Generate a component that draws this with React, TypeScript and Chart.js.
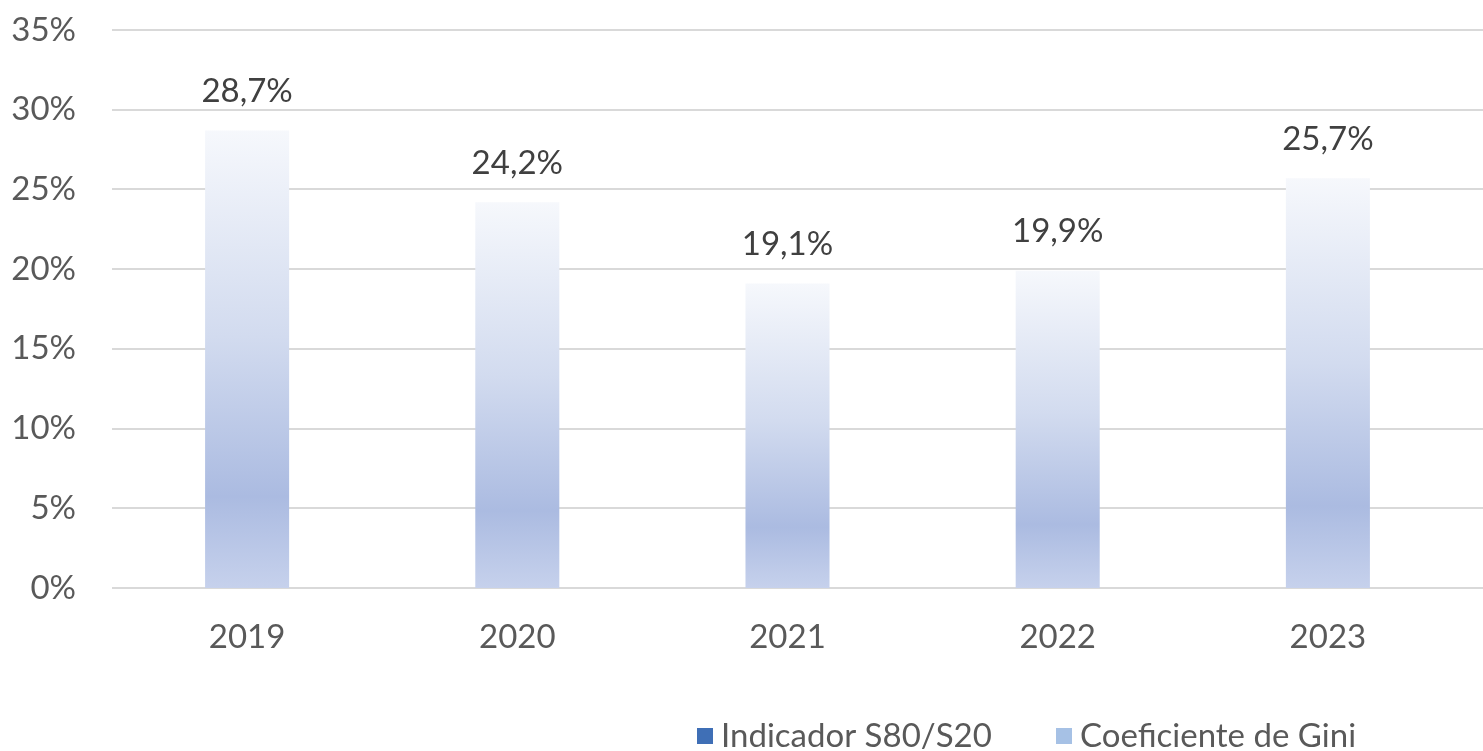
import React, { useEffect, useRef } from "react";
import { Chart, registerables } from "chart.js";

Chart.register(...registerables);

const categories = ["2019", "2020", "2021", "2022", "2023"];
const giniValues = [28.7, 24.2, 19.1, 19.9, 25.7];
const s80s20Values: (number | null)[] = [null, null, null, null, null];
const yTicks = [0, 5, 10, 15, 20, 25, 30, 35];
const seriesLabels = ["Indicador S80/S20", "Coeficiente de Gini"];
const legendColors = ["#3f6fb6", "#a6c1e5"];

const FONT = "Lato, 'Open Sans', sans-serif";
const FS = 33;
const fmt = (v: number) => v.toFixed(1).replace(".", ",") + "%";

const gridPlugin = {
  id: "fullGrid",
  beforeDatasetsDraw(chart: any) {
    const { ctx, chartArea, scales } = chart;
    ctx.save();
    ctx.strokeStyle = "#d9d9d9";
    ctx.lineWidth = 2;
    yTicks.forEach((t) => {
      const y = Math.round(scales.y.getPixelForValue(t));
      ctx.beginPath();
      ctx.moveTo(chartArea.left, y);
      ctx.lineTo(chart.width, y);
      ctx.stroke();
    });
    ctx.restore();
  },
};

const labelPlugin = {
  id: "barLabels",
  afterDatasetsDraw(chart: any) {
    const { ctx } = chart;
    const meta = chart.getDatasetMeta(1);
    ctx.save();
    ctx.font = `${FS}px ${FONT}`;
    ctx.fillStyle = "#404040";
    ctx.textAlign = "center";
    ctx.textBaseline = "middle";
    meta.data.forEach((bar: any, i: number) => {
      const v = giniValues[i];
      ctx.fillText(fmt(v), bar.x, bar.y - 39);
    });
    ctx.restore();
  },
};

const legendPlugin = {
  id: "customLegend",
  afterDraw(chart: any) {
    const { ctx } = chart;
    ctx.save();
    ctx.font = `${FS}px ${FONT}`;
    ctx.textBaseline = "middle";
    ctx.textAlign = "left";
    const y = 736;
    const starts = [697, 1056];
    seriesLabels.forEach((lab, i) => {
      const x = starts[i];
      ctx.fillStyle = legendColors[i];
      ctx.fillRect(x, y - 8, 16, 16);
      ctx.fillStyle = "#595959";
      ctx.fillText(lab, x + 24, y);
    });
    ctx.restore();
  },
};

export default function App() {
  const ref = useRef<HTMLCanvasElement>(null);
  useEffect(() => {
    document.body.style.margin = "0";
    const canvas = ref.current!;
    const chart = new Chart(canvas, {
      type: "bar",
      data: {
        labels: categories,
        datasets: [
          {
            label: seriesLabels[0],
            data: s80s20Values,
            backgroundColor: legendColors[0],
          },
          {
            label: seriesLabels[1],
            data: giniValues,
            backgroundColor: (c: any) => {
              const chart = c.chart;
              const ys = chart.scales?.y;
              if (!ys || c.raw == null) return legendColors[1];
              const top = ys.getPixelForValue(c.raw);
              const base = ys.getPixelForValue(0);
              if (!isFinite(top) || !isFinite(base) || top === base) return legendColors[1];
              const g = chart.ctx.createLinearGradient(0, top, 0, base);
              g.addColorStop(0, "#f6f8fc");
              g.addColorStop(0.45, "#d2dbef");
              g.addColorStop(0.8, "#abbbe1");
              g.addColorStop(1, "#c6d1ec");
              return g;
            },
          },
        ],
      },
      options: {
        animation: false,
        responsive: false,
        maintainAspectRatio: false,
        datasets: { bar: { grouped: false, barPercentage: 0.311, categoryPercentage: 1 } },
        layout: { padding: { top: 30, right: 20, bottom: 0, left: 0 } },
        plugins: { legend: { display: false }, tooltip: { enabled: false } },
        scales: {
          x: {
            grid: { display: false },
            border: { display: false },
            ticks: { color: "#595959", font: { family: FONT, size: FS }, padding: 22 },
            afterFit: (s: any) => {
              s.height = 163;
              s.paddingLeft = 0;
              s.paddingRight = 0;
            },
          },
          y: {
            min: 0,
            max: 35,
            grid: { display: false },
            border: { display: false },
            afterFit: (s: any) => {
              s.width = 112;
              s.paddingTop = 0;
              s.paddingBottom = 0;
            },
            afterBuildTicks: (s: any) => {
              s.ticks = yTicks.map((v) => ({ value: v }));
            },
            ticks: {
              color: "#595959",
              font: { family: FONT, size: FS },
              padding: 28,
              callback: (v: any) => v + "%",
            },
          },
        },
      },
      plugins: [gridPlugin, labelPlugin, legendPlugin],
    });
    return () => chart.destroy();
  }, []);
  return (
    <div style={{ position: "absolute", left: 0, top: 0, width: 1483, height: 751 }}>
      <canvas ref={ref} width={1483} height={751} style={{ width: 1483, height: 751 }} />
    </div>
  );
}
